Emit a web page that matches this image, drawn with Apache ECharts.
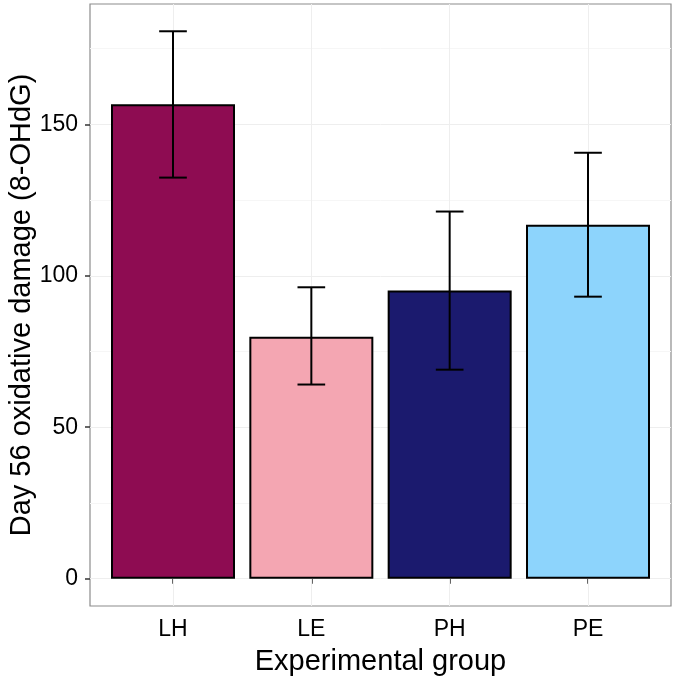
<!DOCTYPE html>
<html>
<head>
<meta charset="utf-8">
<title>Day 56 oxidative damage</title>
<script src="https://cdn.jsdelivr.net/npm/echarts@6.0.0/dist/echarts.min.js"></script>
<style>
  html, body { margin: 0; padding: 0; background: #fff; }
  #chart { width: 675px; height: 685px; }
</style>
</head>
<body>
<div id="chart"></div>
<script>
// data
const groups = ['LH', 'LE', 'PH', 'PE'];
const means = [156.6, 79.9, 95.1, 116.8];
const errLow = [132.4, 64.1, 69.0, 93.1];
const errHigh = [180.7, 96.2, 121.2, 140.6];
const colors = ['#8E0C52', '#F4A6B2', '#1B1A6E', '#8DD4FC'];
const yTicks = [0, 50, 100, 150];
const yMinor = [25, 75, 125, 175];

const positions = groups.map((g, i) => i + 1);

const chart = echarts.init(document.getElementById('chart'));

const font = 'Liberation Sans, Arial, sans-serif';

// faint ggplot-style grid, drawn through the axes as mark lines
const gridLines = [
  ...yMinor.map(v => ({ yAxis: v, lineStyle: { color: '#f6f6f6', width: 1 } })),
  ...yTicks.map(v => ({ yAxis: v, lineStyle: { color: '#eeeeee', width: 1 } })),
  ...positions.map(v => ({ xAxis: v, lineStyle: { color: '#eeeeee', width: 1 } }))
];

const option = {
  backgroundColor: '#ffffff',
  animation: false,
  grid: {
    left: 90, right: 4, top: 4, bottom: 79,
    outerBoundsMode: 'none',
    containLabel: false,
    show: true,
    borderColor: '#8c8c8c',
    borderWidth: 1.2,
    backgroundColor: '#ffffff'
  },
  xAxis: {
    type: 'value',
    min: 0.4,
    max: 4.6,
    name: 'Experimental group',
    nameLocation: 'middle',
    nameGap: 41,
    nameMoveOverlap: false,
    nameTextStyle: { fontSize: 29, color: '#000', fontFamily: font },
    axisLine: { show: false },
    splitLine: { show: false },
    axisTick: { show: true, customValues: positions, length: 5, lineStyle: { color: '#333', width: 1.5 } },
    axisLabel: {
      customValues: positions,
      fontSize: 23, color: '#000', fontFamily: font, margin: 12,
      formatter: v => groups[Math.round(v) - 1] || ''
    }
  },
  yAxis: {
    type: 'value',
    min: -9,
    max: 189.7,
    name: 'Day 56 oxidative damage (8-OHdG)',
    nameLocation: 'middle',
    nameGap: 54,
    nameMoveOverlap: false,
    nameTextStyle: { fontSize: 29, color: '#000', fontFamily: font },
    axisLine: { show: false },
    splitLine: { show: false },
    axisTick: { show: true, customValues: yTicks, length: 5, lineStyle: { color: '#333', width: 1.5 } },
    axisLabel: { customValues: yTicks, fontSize: 23, color: '#000', fontFamily: font, margin: 12 }
  },
  series: [
    {
      type: 'line',
      data: [],
      silent: true,
      z: 1,
      markLine: {
        silent: true,
        symbol: 'none',
        z: 1,
        label: { show: false },
        lineStyle: { type: 'solid' },
        data: gridLines
      }
    },
    {
      type: 'bar',
      z: 3,
      barWidth: 124,
      data: means.map((m, i) => ({
        value: [positions[i], m],
        itemStyle: { color: colors[i], borderColor: '#000', borderWidth: 2 }
      }))
    },
    {
      type: 'custom',
      z: 4,
      data: positions.map((p, i) => [p, errLow[i], errHigh[i]]),
      renderItem: (params, api) => {
        const x = api.value(0);
        const lo = api.coord([x, api.value(1)]);
        const hi = api.coord([x, api.value(2)]);
        const half = api.size([0.2, 0])[0] / 2;
        const style = { stroke: '#000', lineWidth: 2 };
        return {
          type: 'group',
          children: [
            { type: 'line', shape: { x1: lo[0], y1: lo[1], x2: hi[0], y2: hi[1] }, style },
            { type: 'line', shape: { x1: hi[0] - half, y1: hi[1], x2: hi[0] + half, y2: hi[1] }, style },
            { type: 'line', shape: { x1: lo[0] - half, y1: lo[1], x2: lo[0] + half, y2: lo[1] }, style }
          ]
        };
      }
    }
  ]
};

chart.setOption(option);
</script>
</body>
</html>
